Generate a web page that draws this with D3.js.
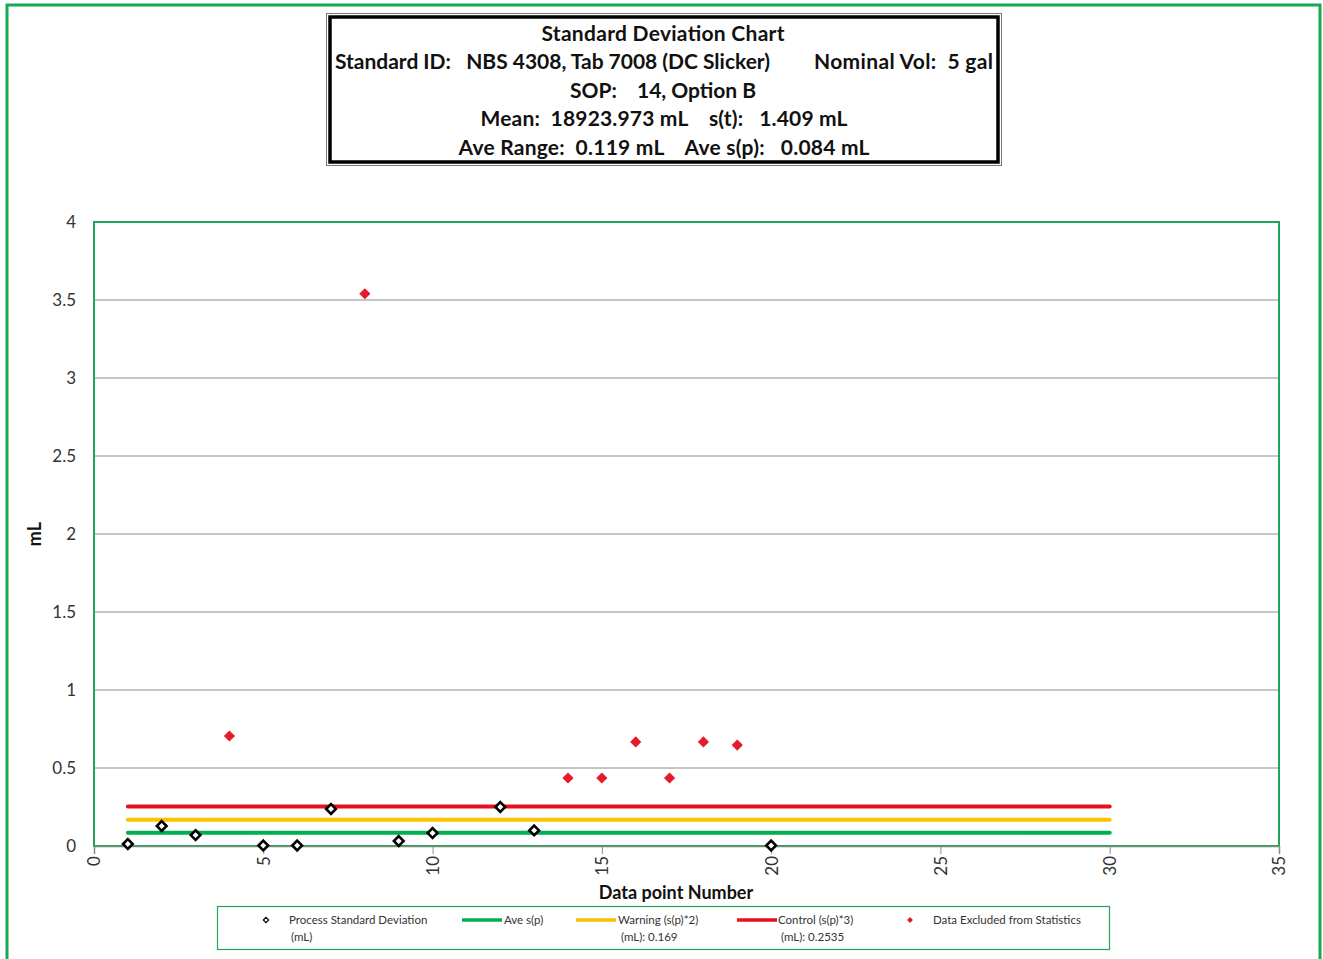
<!DOCTYPE html>
<html>
<head>
<meta charset="utf-8">
<script src="https://cdn.jsdelivr.net/npm/d3@7"></script>
<style>
  body { margin: 0; background: #fff; }
  svg { display: block; }
</style>
</head>
<body>
<script>
// data
const pointNo = [1, 2, 3, 5, 6, 7, 9, 10, 12, 13, 20];
const processSd = [0.013, 0.128, 0.07, 0.003, 0.003, 0.237, 0.032, 0.083, 0.25, 0.10, 0.003];
const excludedNo = [4, 8, 14, 15, 16, 17, 18, 19];
const excludedSd = [0.705, 3.54, 0.436, 0.436, 0.667, 0.436, 0.667, 0.647];
const limitNames = ["Ave s(p)", "Warning (s(p)*2)", "Control (s(p)*3)"];
const limitValues = [0.0845, 0.169, 0.2535];
const limitColors = ["#00b050", "#ffc000", "#e8101e"];
const limitRange = [1, 30];
const xTicks = [0, 5, 10, 15, 20, 25, 30, 35];
const yTicks = [0, 0.5, 1, 1.5, 2, 2.5, 3, 3.5, 4];

const width = 1323, height = 959;
const font = "Lato, 'Open Sans', sans-serif";
const margin = { left: 94, right: 1279, top: 222, bottom: 846 };

const svg = d3.select("body").append("svg")
  .attr("width", width)
  .attr("height", height);

// outer frame
svg.append("rect")
  .attr("x", 7).attr("y", 5)
  .attr("width", 1313).attr("height", 970)
  .attr("fill", "none")
  .attr("stroke", "#13aa52")
  .attr("stroke-width", 3);

// header box
const hdr = svg.append("g");
hdr.append("rect").attr("x", 326.5).attr("y", 13.5).attr("width", 675).attr("height", 152)
  .attr("fill", "#fff").attr("stroke", "#777").attr("stroke-width", 1);
hdr.append("rect").attr("x", 330).attr("y", 17).attr("width", 668).attr("height", 145)
  .attr("fill", "none").attr("stroke", "#000").attr("stroke-width", 3.5);

const hdrText = (x, y, txt, anchor, len) => {
  const t = hdr.append("text")
    .attr("x", x).attr("y", y)
    .attr("text-anchor", anchor)
    .attr("font-family", font)
    .attr("font-weight", "bold")
    .attr("font-size", 21)
    .attr("fill", "#111")
    .style("white-space", "pre")
    .text(txt);
  if (len) t.attr("textLength", len).attr("lengthAdjust", "spacing");
  return t;
};

hdrText(663, 41, "Standard Deviation Chart", "middle", 243);
hdrText(335, 69, "Standard ID:   NBS 4308, Tab 7008 (DC Slicker)", "start", 435);
hdrText(993, 69, "Nominal Vol:  5 gal", "end", 179);
hdrText(663, 98, "SOP:    14, Option B", "middle", 186);
hdrText(664, 126, "Mean:  18923.973 mL    s(t):   1.409 mL", "middle", 367);
hdrText(664, 155, "Ave Range:  0.119 mL    Ave s(p):   0.084 mL", "middle", 411);

// scales
const x = d3.scaleLinear().domain([0, 35]).range([margin.left, margin.right]);
const y = d3.scaleLinear().domain([0, 4]).range([margin.bottom, margin.top]);

// gridlines
svg.append("g")
  .selectAll("line")
  .data(yTicks.filter(d => d > 0 && d < 4))
  .join("line")
  .attr("x1", margin.left).attr("x2", margin.right)
  .attr("y1", d => y(d)).attr("y2", d => y(d))
  .attr("stroke", "#8c8c8c").attr("stroke-width", 1);

// plot border
svg.append("rect")
  .attr("x", margin.left).attr("y", margin.top)
  .attr("width", margin.right - margin.left)
  .attr("height", margin.bottom - margin.top)
  .attr("fill", "none")
  .attr("stroke", "#20a557")
  .attr("stroke-width", 2);

// x axis
const xAxis = svg.append("g")
  .attr("transform", `translate(0,${margin.bottom})`)
  .call(d3.axisBottom(x).tickValues(xTicks).tickSize(8).tickFormat(d3.format("d")));
xAxis.select(".domain").attr("stroke", "#6e8f7a").attr("stroke-width", 1.5);
xAxis.selectAll(".tick line").attr("stroke", "#8c8c8c");
xAxis.selectAll(".tick text")
  .attr("font-family", font)
  .attr("font-size", 17)
  .attr("fill", "#333")
  .attr("text-anchor", "end")
  .attr("transform", "rotate(-90)")
  .attr("x", -10)
  .attr("y", 0)
  .attr("dy", "0.35em");

// y axis labels
const yAxis = svg.append("g")
  .attr("transform", `translate(${margin.left},0)`)
  .call(d3.axisLeft(y).tickValues(yTicks).tickSize(0).tickPadding(18).tickFormat(d3.format("")));
yAxis.select(".domain").remove();
yAxis.selectAll(".tick text")
  .attr("font-family", font)
  .attr("font-size", 17)
  .attr("fill", "#333");

// axis titles
svg.append("text")
  .attr("x", 676).attr("y", 899)
  .attr("text-anchor", "middle")
  .attr("font-family", font).attr("font-weight", "bold").attr("font-size", 18)
  .attr("fill", "#111")
  .text("Data point Number");

svg.append("text")
  .attr("transform", `translate(41,${(margin.top + margin.bottom) / 2}) rotate(-90)`)
  .attr("text-anchor", "middle")
  .attr("font-family", font).attr("font-weight", "bold").attr("font-size", 18)
  .attr("fill", "#111")
  .text("mL");

// limit lines
svg.append("g")
  .selectAll("line")
  .data(limitValues)
  .join("line")
  .attr("x1", x(limitRange[0])).attr("x2", x(limitRange[1]))
  .attr("y1", d => y(d)).attr("y2", d => y(d))
  .attr("stroke", (d, i) => limitColors[i])
  .attr("stroke-width", 4)
  .attr("stroke-linecap", "round");

const diamond = d3.symbol().type(d3.symbolDiamond2);

// process standard deviation points
svg.append("g")
  .selectAll("path")
  .data(pointNo.map((n, i) => ({ n, v: processSd[i] })))
  .join("path")
  .attr("d", diamond.size(60)())
  .attr("transform", d => `translate(${x(d.n)},${y(d.v)})`)
  .attr("fill", "#fff")
  .attr("stroke", "#000")
  .attr("stroke-width", 2.6);

// excluded points
svg.append("g")
  .selectAll("path")
  .data(excludedNo.map((n, i) => ({ n, v: excludedSd[i] })))
  .join("path")
  .attr("d", diamond.size(80)())
  .attr("transform", d => `translate(${x(d.n)},${y(d.v)})`)
  .attr("fill", "#e31b2a");

// legend
const lg = svg.append("g");
lg.append("rect")
  .attr("x", 217.5).attr("y", 906.5).attr("width", 892).attr("height", 43)
  .attr("fill", "#fff").attr("stroke", "#20a557").attr("stroke-width", 1.2);

const lgText = (xx, yy, txt) => lg.append("text")
  .attr("x", xx).attr("y", yy)
  .attr("font-family", font).attr("font-size", 11.5)
  .attr("fill", "#333")
  .text(txt);

lg.append("path")
  .attr("d", diamond.size(18)())
  .attr("transform", "translate(266,920)")
  .attr("fill", "#fff").attr("stroke", "#000").attr("stroke-width", 1.2);
lgText(289, 924, "Process Standard Deviation");
lgText(291, 941, "(mL)");

const lineKeys = [462, 576, 737];
const lineLabelX = [504, 618, 778];
const lineSub = [null, "(mL): 0.169", "(mL): 0.2535"];
lineKeys.forEach((lx, i) => {
  lg.append("line")
    .attr("x1", lx).attr("x2", lx + 40)
    .attr("y1", 920).attr("y2", 920)
    .attr("stroke", limitColors[i]).attr("stroke-width", 3.5);
  lgText(lineLabelX[i], 924, limitNames[i]);
  if (lineSub[i]) lgText(lineLabelX[i] + 3, 941, lineSub[i]);
});

lg.append("path")
  .attr("d", diamond.size(22)())
  .attr("transform", "translate(910,920)")
  .attr("fill", "#e31b2a");
lgText(933, 924, "Data Excluded from Statistics");
</script>
</body>
</html>
